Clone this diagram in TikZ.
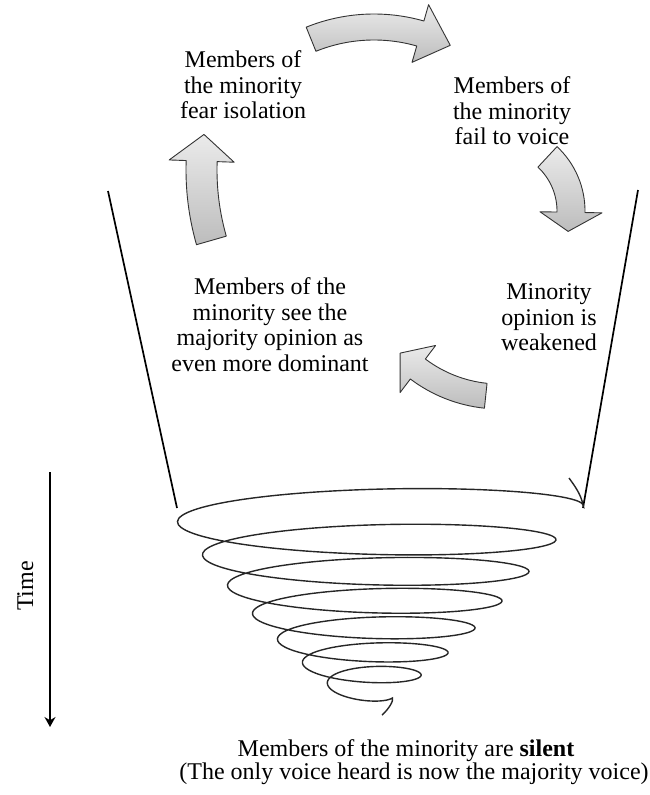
\documentclass[tikz,border=0pt]{standalone}
\usepackage{fontspec}
\setmainfont{Liberation Serif}
\usetikzlibrary{arrows.meta,positioning}

\newcommand{\bentarrow}[6]{%
  \draw[cyclearrow, shift={(#1)}] ({#2}:{#6}) arc[start angle=#2, end angle=#3, radius=#6]
    -- ({#3}:{#6+17}) -- ({#4}:{(#5+#6)/2}) -- ({#3}:{#5-17}) -- ({#3}:{#5})
    arc[start angle=#3, end angle=#2, radius=#5] -- cycle;}

\begin{document}
\begin{tikzpicture}[
            x=1pt, y=-1pt,
            every node/.style={font=\fontsize{24}{25.5}\selectfont, inner sep=0pt},
            lbl/.style={align=center, anchor=north},
            cyclearrow/.style={draw=black!80, line width=0.9pt, line join=round, top color=black!8, bottom color=black!26},
            cupline/.style={line width=1.7pt},
            spiral/.style={line width=1.4pt, black!85},
            timearrow/.style={line width=1.5pt, -{Stealth[length=10pt, width=11pt]}},
        ]
            \useasboundingbox (0,0) rectangle (650,795);

            \node[lbl] (fear) at (243,50.6) {Members of\\the minority\\fear isolation};
            \node[lbl] (voice) at (512,76.6) {Members of\\the minority\\fail to voice};
            \node[lbl] (weakened) at (549,283.6) {Minority\\opinion is\\weakened};
            \node[lbl] (dominant) at (270,277.6) {Members of the\\minority see the\\majority opinion as\\even more dominant};

            \bentarrow{374,195}{-112}{-74}{-63}{155}{181}
            \bentarrow{497,211}{-47}{1}{16}{60}{88}
            \bentarrow{500,260}{96}{127}{137}{124}{149}
            \bentarrow{457,170}{164}{182}{188}{240}{271}

            \coordinate (cupltop) at (108,191);
            \coordinate (cuplbot) at (177,508);
            \coordinate (cuprtop) at (638,190);
            \coordinate (cuprbot) at (583,508);
            \draw[cupline] (cupltop) -- (cuplbot);
            \draw[cupline] (cuprtop) -- (cuprbot);

            \coordinate (hook) at (569,478);
            \draw[spiral] (hook) .. controls (574,485) and (581,494) .. (583,505)
                -- plot[domain=0:6.92, samples=420, smooth]
                ({374 - \x + (209 - 26*\x)*cos(360*\x)},
                 {505 + 35.4*\x - 1.2*\x*\x - (25 - 2*\x)*sin(360*\x)})
                .. controls (394,700) and (389,709) .. (382,715);

            \coordinate (tstart) at (50,472);
            \coordinate (tend) at (50,727);
            \draw[timearrow] (tstart) -- (tend);
            \node[rotate=90, anchor=base] (time) at (33,586) {Time};

            \node[anchor=base] (silent) at (406,756) {Members of the minority are \textbf{silent}};
            \node[anchor=base] (heard) at (414,779) {(The only voice heard is now the majority voice)};
        \end{tikzpicture}
\end{document}
